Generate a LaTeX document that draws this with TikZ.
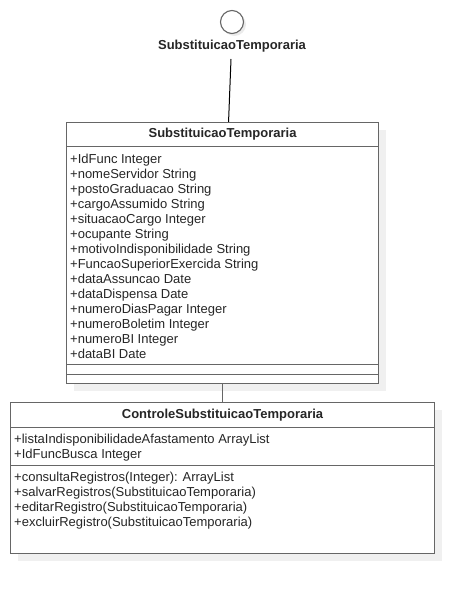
\documentclass[tikz,border=0pt]{standalone}
\usepackage{fontspec}
\setmainfont{Liberation Sans}
\usepackage{tikz}
\usetikzlibrary{shadows}

\tikzset{
  classbox/.style={rectangle, draw=black!60, line width=1.1pt, fill=white, anchor=north west, inner sep=0pt,
    drop shadow={shadow xshift=7pt, shadow yshift=-7pt, fill=black!6, opacity=1}},
  comp/.style={rectangle, draw=black!60, line width=1.1pt, anchor=north west, inner sep=0pt},
  members/.style={anchor=base west, align=left, inner sep=0pt, text=black!85, font=\fontsize{13}{15}\selectfont},
  classname/.style={text=black!85, font=\fontsize{13}{15}\selectfont\bfseries},
}

\begin{document}
\begin{tikzpicture}[x=1pt, y=-1pt]
\useasboundingbox (0,0) rectangle (474,594);

% interface lollipop
\node at (232,22) [circle, draw=black!60, line width=1.1pt, fill=white, minimum size=23pt, inner sep=0pt, drop shadow={shadow xshift=2.5pt, shadow yshift=-2.5pt, fill=black!8, opacity=1}] (iface) {};
\node at (232,46) [classname] (ifacelabel) {SubstituicaoTemporaria};
\coordinate (ifaceend) at (231,59);

% class SubstituicaoTemporaria (text placed by its last baseline)
\node at (66,122) [classbox, minimum width=312pt, minimum height=261pt] (st) {};
\node at (66,122) [comp, minimum width=312pt, minimum height=24pt, classname] (sthead) {SubstituicaoTemporaria};
\node at (66,146) [comp, minimum width=312pt, minimum height=218pt] (statt) {};
\node at (66,364) [comp, minimum width=312pt, minimum height=10pt] (stop) {};
\node at (70,358) [members] (sttext) {+IdFunc Integer\\+nomeServidor String\\+postoGraduacao String\\+cargoAssumido String\\+situacaoCargo Integer\\+ocupante String\\+motivoIndisponibilidade String\\+FuncaoSuperiorExercida String\\+dataAssuncao Date\\+dataDispensa Date\\+numeroDiasPagar Integer\\+numeroBoletim Integer\\+numeroBI Integer\\+dataBI Date};

% class ControleSubstituicaoTemporaria
\node at (10,402) [classbox, minimum width=424pt, minimum height=151pt] (ctrl) {};
\node at (10,402) [comp, minimum width=424pt, minimum height=25pt, classname] (ctrlhead) {ControleSubstituicaoTemporaria};
\node at (10,427) [comp, minimum width=424pt, minimum height=38pt] (ctrlatt) {};
\node at (14,458) [members] (ctrlatttext) {+listaIndisponibilidadeAfastamento ArrayList\\+IdFuncBusca Integer};
\node at (14,526) [members] (ctrloptext) {+consultaRegistros(Integer): ArrayList\\+salvarRegistros(SubstituicaoTemporaria)\\+editarRegistro(SubstituicaoTemporaria)\\+excluirRegistro(SubstituicaoTemporaria)};

\draw [draw=black, line width=1pt] (ifaceend) -- ([xshift=6pt]st.north);
\draw [draw=black!60, line width=1.1pt] (st.south) -- (ctrl.north);

\end{tikzpicture}
\end{document}
